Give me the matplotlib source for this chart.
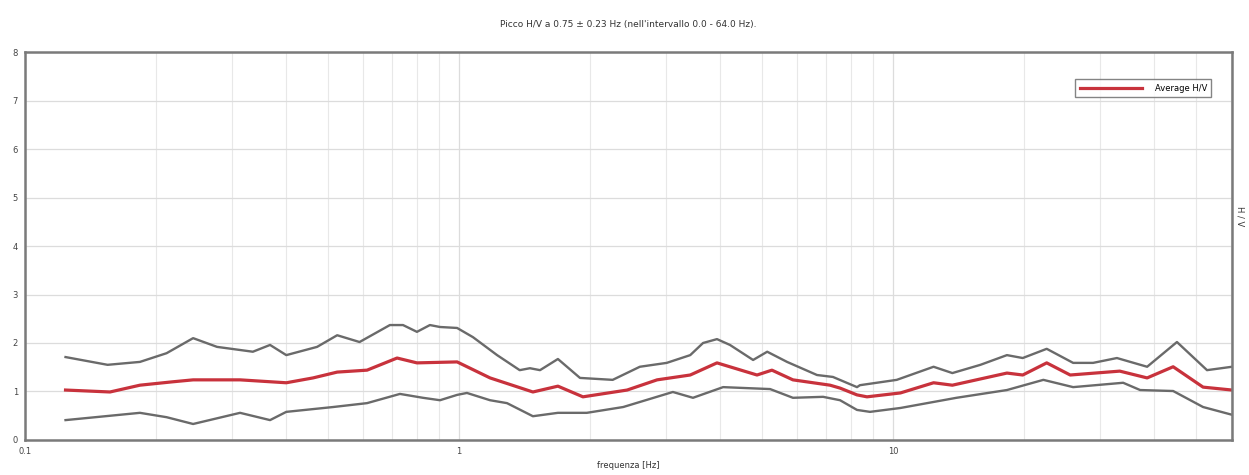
import numpy as np
import matplotlib
matplotlib.use("Agg")
import matplotlib.pyplot as plt
from matplotlib.ticker import FixedLocator, NullFormatter, LogLocator

# H/V curves (frequency in Hz, ratio)
f_upper = [0.124, 0.155, 0.184, 0.212, 0.244, 0.277, 0.335, 0.367, 0.40, 0.471, 0.524,
           0.59, 0.693, 0.743, 0.80, 0.857, 0.904, 0.99, 1.077, 1.224, 1.38, 1.457,
           1.537, 1.69, 1.90, 2.26, 2.61, 3.01, 3.41, 3.65, 3.93, 4.21, 4.76, 5.13,
           5.70, 6.68, 7.27, 8.26, 8.39, 10.2, 12.4, 13.7, 15.9, 18.3, 19.9, 22.6,
           26.0, 28.9, 32.8, 38.5, 45.1, 52.9, 60.4]
hv_upper = [1.71, 1.55, 1.61, 1.79, 2.10, 1.92, 1.82, 1.96, 1.75, 1.92, 2.16,
            2.02, 2.37, 2.37, 2.23, 2.37, 2.33, 2.31, 2.12, 1.75, 1.44, 1.48,
            1.44, 1.67, 1.28, 1.24, 1.51, 1.59, 1.75, 2.00, 2.08, 1.96, 1.65, 1.82,
            1.61, 1.34, 1.30, 1.09, 1.13, 1.24, 1.51, 1.38, 1.55, 1.75, 1.69, 1.88,
            1.59, 1.59, 1.69, 1.51, 2.02, 1.44, 1.51]

f_avg = [0.124, 0.157, 0.184, 0.219, 0.244, 0.313, 0.40, 0.461, 0.524, 0.614, 0.72,
         0.80, 0.99, 1.179, 1.48, 1.69, 1.93, 2.44, 2.86, 3.41, 3.93, 4.86, 5.26,
         5.88, 7.16, 7.55, 8.26, 8.71, 10.4, 12.4, 13.7, 18.3, 19.9, 22.6, 25.6,
         33.3, 38.5, 44.2, 51.8, 60.4]
hv_avg = [1.03, 0.99, 1.13, 1.20, 1.24, 1.24, 1.18, 1.28, 1.40, 1.44, 1.69,
          1.59, 1.61, 1.28, 0.99, 1.11, 0.89, 1.03, 1.24, 1.34, 1.59, 1.34, 1.44,
          1.24, 1.13, 1.07, 0.93, 0.89, 0.97, 1.18, 1.13, 1.38, 1.34, 1.59, 1.34,
          1.42, 1.28, 1.51, 1.09, 1.03]

f_lower = [0.124, 0.184, 0.212, 0.244, 0.313, 0.367, 0.40, 0.513, 0.614, 0.731, 0.826,
           0.904, 0.99, 1.043, 1.179, 1.29, 1.48, 1.69, 1.97, 2.39, 3.11, 3.46,
           4.06, 5.21, 5.88, 6.90, 7.55, 8.26, 8.85, 10.4, 14.0, 18.3, 22.2, 26.0,
           33.9, 37.1, 44.2, 51.8, 60.4]
hv_lower = [0.41, 0.56, 0.47, 0.33, 0.56, 0.41, 0.58, 0.68, 0.76, 0.95, 0.87,
            0.82, 0.93, 0.97, 0.82, 0.76, 0.49, 0.56, 0.56, 0.68, 0.99, 0.87,
            1.09, 1.05, 0.87, 0.89, 0.82, 0.62, 0.58, 0.66, 0.87, 1.03, 1.24, 1.09,
            1.18, 1.03, 1.01, 0.68, 0.52]

title = "Picco H/V a 0.75 \u00b1 0.23 Hz (nell'intervallo 0.0 - 64.0 Hz)."

fig = plt.figure(figsize=(12.49, 4.75), dpi=100)
ax = fig.add_axes([0.020, 0.0737, 0.9664, 0.8168])

ax.plot(f_upper, hv_upper, color="#6a6a6a", lw=1.7)
ax.plot(f_lower, hv_lower, color="#6a6a6a", lw=1.7)
ax.plot(f_avg, hv_avg, color="#c8323c", lw=2.3, label="Average H/V")

ax.set_xscale("log")
ax.set_xlim(0.1, 60.4)
ax.set_ylim(0, 8)
ax.xaxis.set_major_locator(FixedLocator([0.1, 1, 10]))
ax.set_xticklabels(["0.1", "1", "10"])
ax.xaxis.set_minor_locator(LogLocator(subs=np.arange(2, 10)))
ax.xaxis.set_minor_formatter(NullFormatter())
ax.set_yticks(range(9))

ax.grid(True, which="major", color="#dcdcdc", lw=0.9)
ax.grid(True, which="minor", axis="x", color="#e8e8e8", lw=0.8)
ax.tick_params(which="both", length=0, labelsize=6, colors="#444444", pad=5)
for s in ax.spines.values():
    s.set_color("#7a7a7a")
    s.set_linewidth(1.8)

ax.set_title(title, fontsize=6.5, color="#333333", pad=18)
ax.set_xlabel("frequenza [Hz]", fontsize=6, color="#333333", labelpad=4)
fig.text(0.993, 0.545, "H / V", rotation=270, fontsize=6, color="#333333",
         ha="center", va="center")

leg = ax.legend(loc="upper right", bbox_to_anchor=(0.983, 0.93), fontsize=6,
                frameon=True, fancybox=False, handlelength=7.5, handletextpad=1.5,
                borderpad=0.55, borderaxespad=0)
leg.get_frame().set_edgecolor("#666666")
leg.get_frame().set_linewidth(1.0)

fig.savefig("out.png", dpi=100)
